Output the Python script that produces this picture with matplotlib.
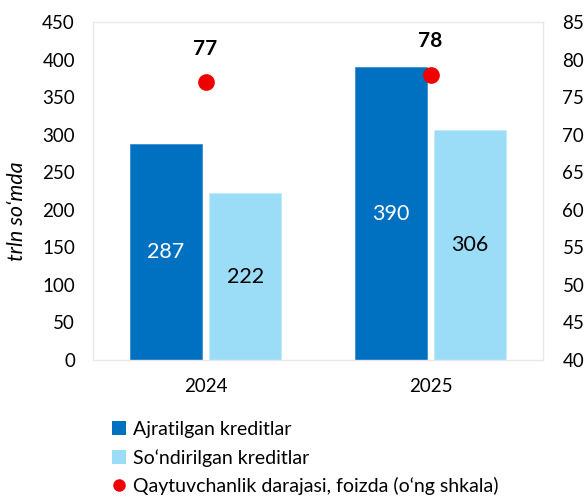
import numpy as np
import matplotlib
matplotlib.use("Agg")
import matplotlib.pyplot as plt
from matplotlib.lines import Line2D
from matplotlib.patches import Patch

plt.rcParams['font.family'] = ['Lato', 'DejaVu Sans']

# data
years = ["2024", "2025"]
allocated = [287, 390]
repaid = [222, 306]
repay_rate = [77, 78]

dark_blue = "#0070C0"
light_blue = "#9BDCF7"
red = "#F00000"
grid_grey = "#E8E8E8"

fig = plt.figure(figsize=(5.87, 4.97), dpi=100)
ax = fig.add_axes([93 / 587, 1 - 360 / 497, 450 / 587, 338 / 497])

x = np.arange(len(years))
w = 0.32
off = 0.176

b1 = ax.bar(x - off, allocated, w, color=dark_blue, edgecolor="#3C8FD0", linewidth=0.6)
b2 = ax.bar(x + off, repaid, w, color=light_blue, edgecolor="#C4EAFA", linewidth=0.6)

for rect, v in zip(b1, allocated):
    ax.text(rect.get_x() + rect.get_width() / 2, v / 2, str(v),
            ha="center", va="center", color="white", fontsize=15.5)
for rect, v in zip(b2, repaid):
    ax.text(rect.get_x() + rect.get_width() / 2, v / 2, str(v),
            ha="center", va="center", color="black", fontsize=15.5)

ax.set_xlim(-0.5, 1.5)
ax.set_ylim(0, 450)
ax.set_yticks(np.arange(0, 451, 50))
ax.set_xticks(x)
ax.set_xticklabels(years)
ax.tick_params(axis="x", length=0, labelsize=13.5, pad=13)
ax.tick_params(axis="y", length=0, labelsize=13.5, pad=13)
for s in ax.spines.values():
    s.set_color(grid_grey)
    s.set_linewidth(1)

# right axis
ax2 = ax.twinx()
ax2.set_ylim(40, 85)
ax2.set_yticks(np.arange(40, 86, 5))
ax2.tick_params(axis="y", length=0, labelsize=13.5, pad=14)
for s in ax2.spines.values():
    s.set_visible(False)

ax2.plot(x, repay_rate, "o", color=red, markersize=11, zorder=5, clip_on=False)
for xi, v in zip(x, repay_rate):
    ax2.annotate(str(v), (xi, v), xytext=(0, 24), textcoords="offset points",
                 ha="center", va="center", fontsize=15, fontweight="bold")

fig.text(17 / 587, 1 - 211 / 497, "trln so‘mda", rotation=90, style="italic",
         ha="center", va="center", fontsize=15.5)

handles = [
    Patch(facecolor=dark_blue, edgecolor="none"),
    Patch(facecolor=light_blue, edgecolor="none"),
    Line2D([0], [0], marker="o", color="none", markerfacecolor=red,
           markeredgecolor=red, markersize=8),
]
labels = ["Ajratilgan kreditlar", "So‘ndirilgan kreditlar",
          "Qaytuvchanlik darajasi, foizda (o‘ng shkala)"]
fig.legend(handles, labels, loc="upper left", bbox_to_anchor=(112 / 587, 1 - 421 / 497),
           frameon=False, fontsize=14, handlelength=0.7, handleheight=0.7,
           handletextpad=0.4, labelspacing=0.55, borderpad=0, borderaxespad=0)

fig.savefig("out.png", dpi=100)
